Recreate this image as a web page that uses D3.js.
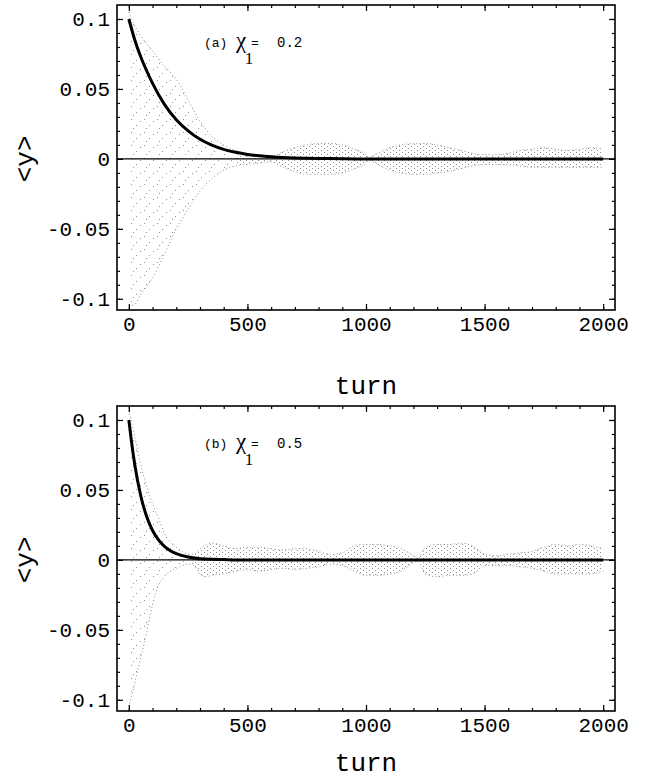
<!DOCTYPE html>
<html><head><meta charset="utf-8">
<script src="https://cdn.jsdelivr.net/npm/d3@7"></script>
<style>body{margin:0;background:#fff}</style>
</head><body>
<svg id="c" width="652" height="779" xmlns="http://www.w3.org/2000/svg"></svg>
<script>
// ---------- data ----------
const xTickValues = [0, 500, 1000, 1500, 2000];
const xTickLabels = ["0", "500", "1000", "1500", "2000"];
const yTickValues = [-0.1, -0.05, 0, 0.05, 0.1];
const yTickLabels = ["-0.1", "-0.05", "0", "0.05", "0.1"];
const panelLabels = ["(a)", "(b)"];
const chiValues = ["0.2", "0.5"];
const xTitle = "turn";
const yTitle = "<y>";

// thick curve: centroid <y> (panel a)
const meanTurnsA = [0, 25, 50, 75, 100, 150, 200, 250, 300, 350, 400, 450, 500, 550, 600, 650, 700, 750, 800, 850, 900, 950, 1000, 1500, 2000];
const meanA = [0.1, 0.085, 0.073, 0.063, 0.054, 0.039, 0.028, 0.020, 0.0140, 0.0098, 0.0068, 0.0047, 0.0032, 0.0022, 0.0015, 0.0010, 0.0007, 0.0005, 0.0003, 0.0002, 0.0001, 0, 0, 0, 0];
// thick curve: centroid <y> (panel b)
const meanTurnsB = [0, 10, 25, 50, 75, 100, 125, 150, 175, 200, 250, 300, 350, 400, 450, 500, 1000, 1500, 2000];
const meanB = [0.1, 0.086, 0.068, 0.046, 0.031, 0.021, 0.0143, 0.0097, 0.0066, 0.0045, 0.0021, 0.0009, 0.0004, 0.0002, 0, 0, 0, 0, 0];

// turn-by-turn scatter envelope (panel a)
const envTurnsA = [0, 25, 50, 100, 150, 200, 250, 300, 350, 400, 450, 500, 550, 600, 650, 700, 750, 800, 850, 900, 950, 1000, 1010, 1050, 1100, 1150, 1200, 1250, 1300, 1350, 1400, 1450, 1500, 1550, 1600, 1650, 1700, 1750, 1800, 1850, 1900, 1950, 2000];
const envUpperA = [0.105, 0.095, 0.088, 0.077, 0.066, 0.057, 0.042, 0.027, 0.016, 0.010, 0.006, 0.004, 0.003, 0.002, 0.005, 0.008, 0.010, 0.011, 0.011, 0.010, 0.007, 0.003, 0.001, 0.004, 0.008, 0.010, 0.011, 0.011, 0.010, 0.008, 0.006, 0.004, 0.003, 0.003, 0.004, 0.006, 0.007, 0.008, 0.007, 0.006, 0.007, 0.008, 0.007];
const envLowerA = [-0.105, -0.104, -0.097, -0.085, -0.068, -0.050, -0.036, -0.023, -0.014, -0.008, -0.005, -0.004, -0.003, -0.002, -0.006, -0.009, -0.011, -0.011, -0.011, -0.010, -0.007, -0.003, -0.001, -0.004, -0.008, -0.010, -0.011, -0.011, -0.010, -0.009, -0.007, -0.005, -0.004, -0.004, -0.004, -0.005, -0.006, -0.006, -0.006, -0.006, -0.006, -0.006, -0.006];

// turn-by-turn scatter envelope (panel b)
const envTurnsB = [0, 25, 50, 75, 100, 125, 150, 175, 200, 225, 250, 275, 300, 325, 350, 400, 450, 500, 550, 600, 650, 700, 750, 800, 850, 900, 950, 1000, 1050, 1100, 1150, 1200, 1220, 1250, 1300, 1350, 1400, 1450, 1500, 1550, 1600, 1650, 1700, 1750, 1800, 1850, 1900, 1950, 2000];
const envUpperB = [0.107, 0.088, 0.068, 0.053, 0.040, 0.030, 0.019, 0.013, 0.009, 0.006, 0.004, 0.004, 0.008, 0.011, 0.012, 0.010, 0.008, 0.009, 0.009, 0.008, 0.007, 0.008, 0.008, 0.006, 0.004, 0.005, 0.010, 0.011, 0.011, 0.010, 0.008, 0.003, 0.001, 0.009, 0.011, 0.011, 0.012, 0.010, 0.004, 0.003, 0.004, 0.005, 0.006, 0.009, 0.011, 0.010, 0.011, 0.010, 0.008];
const envLowerB = [-0.105, -0.088, -0.070, -0.052, -0.032, -0.018, -0.012, -0.008, -0.006, -0.004, -0.003, -0.004, -0.010, -0.012, -0.011, -0.010, -0.008, -0.007, -0.008, -0.007, -0.006, -0.007, -0.006, -0.005, -0.003, -0.004, -0.008, -0.011, -0.011, -0.010, -0.008, -0.002, -0.001, -0.010, -0.012, -0.011, -0.011, -0.010, -0.004, -0.004, -0.004, -0.005, -0.006, -0.008, -0.010, -0.010, -0.010, -0.010, -0.008];

// ---------- drawing ----------
const svg = d3.select("#c");
const defs = svg.append("defs");
const sparse = defs.append("pattern").attr("id", "sparse").attr("patternUnits", "userSpaceOnUse")
  .attr("width", 13).attr("height", 13);
[[1,2],[6,8],[10,4],[3,11]].forEach(p => sparse.append("rect").attr("x", p[0]).attr("y", p[1]).attr("width", 1).attr("height", 1).attr("fill", "#909090"));
const dense = defs.append("pattern").attr("id", "dense").attr("patternUnits", "userSpaceOnUse")
  .attr("width", 6).attr("height", 4);
[[0,0],[3,2]].forEach(p => dense.append("rect").attr("x", p[0]).attr("y", p[1]).attr("width", 1).attr("height", 1).attr("fill", "#8c8c8c"));

const panels = [
  {top: 5, titleY: 394, meanT: meanTurnsA, mean: meanA, envT: envTurnsA, up: envUpperA, lo: envLowerA, split: 450, lab: panelLabels[0], chi: chiValues[0]},
  {top: 406, titleY: 771, meanT: meanTurnsB, mean: meanB, envT: envTurnsB, up: envUpperB, lo: envLowerB, split: 275, lab: panelLabels[1], chi: chiValues[1]}
];

const mono = "'Liberation Mono','DejaVu Sans Mono',monospace";
const serif = "'Liberation Serif','DejaVu Serif',serif";

panels.forEach((p, i) => {
  const x = d3.scaleLinear().domain([-50, 2050]).range([117, 615]);
  const y = d3.scaleLinear().domain([-0.108, 0.110]).range([p.top + 305, p.top]);
  const g = svg.append("g");

  const env = p.envT.map((t, k) => ({t, u: p.up[k], l: p.lo[k]}));
  const area = d3.area().x(d => x(d.t)).y0(d => y(d.l)).y1(d => y(d.u)).curve(d3.curveMonotoneX);
  const early = env.filter(d => d.t <= p.split);
  const late = env.filter(d => d.t >= p.split);
  g.append("path").datum(early).attr("d", area).attr("fill", "url(#sparse)");
  g.append("path").datum(late).attr("d", area).attr("fill", "url(#dense)");
  const edge = d3.line().x(d => x(d.t)).curve(d3.curveMonotoneX);
  g.append("path").datum(env).attr("d", edge.y(d => y(d.u))).attr("fill", "none")
    .attr("stroke", "#8c8c8c").attr("stroke-width", 1).attr("stroke-dasharray", "1,2.5");
  g.append("path").datum(env).attr("d", edge.y(d => y(d.l))).attr("fill", "none")
    .attr("stroke", "#8c8c8c").attr("stroke-width", 1).attr("stroke-dasharray", "1,2.5");

  // zero line
  g.append("line").attr("x1", x.range()[0]).attr("x2", x.range()[1]).attr("y1", y(0)).attr("y2", y(0))
    .attr("stroke", "#000").attr("stroke-width", 1.4);

  // thick mean curve
  const mline = d3.line().x((d, k) => x(p.meanT[k])).y(d => y(d)).curve(d3.curveMonotoneX);
  g.append("path").datum(p.mean).attr("d", mline).attr("fill", "none").attr("stroke", "#000").attr("stroke-width", 3);

  // axes
  const xMinor = d3.range(0, 2001, 100);
  const yMinor = d3.range(-10, 11).map(v => v / 100);
  const bottom = y.range()[0], top = y.range()[1], left = x.range()[0], right = x.range()[1];
  const ax = (gen, tx, ty) => g.append("g").attr("transform", `translate(${tx},${ty})`).call(gen);
  const styleAxis = sel => { sel.select(".domain").remove(); sel.selectAll("line").attr("stroke", "#000").attr("stroke-width", 1.2); };

  ax(d3.axisBottom(x).tickValues(xMinor).tickSize(-3).tickFormat(""), 0, bottom).call(styleAxis);
  ax(d3.axisTop(x).tickValues(xMinor).tickSize(-3).tickFormat(""), 0, top).call(styleAxis);
  ax(d3.axisLeft(y).tickValues(yMinor).tickSize(-3).tickFormat(""), left, 0).call(styleAxis);
  ax(d3.axisRight(y).tickValues(yMinor).tickSize(-3).tickFormat(""), right, 0).call(styleAxis);
  ax(d3.axisTop(x).tickValues(xTickValues).tickSize(-6).tickFormat(""), 0, top).call(styleAxis);
  ax(d3.axisRight(y).tickValues(yTickValues).tickSize(-6).tickFormat(""), right, 0).call(styleAxis);

  const xb = ax(d3.axisBottom(x).tickValues(xTickValues).tickSize(-6).tickPadding(0)
      .tickFormat((d, k) => xTickLabels[k]), 0, bottom).call(styleAxis);
  xb.selectAll("text").attr("y", 21).attr("dy", null).attr("font-family", mono).attr("font-size", 21).attr("fill", "#000");
  const yl = ax(d3.axisLeft(y).tickValues(yTickValues).tickSize(-6).tickPadding(0)
      .tickFormat((d, k) => yTickLabels[k]), left, 0).call(styleAxis);
  yl.selectAll("text").attr("x", -7).attr("dy", "0.3em").attr("font-family", mono).attr("font-size", 21).attr("fill", "#000");

  // frame
  g.append("rect").attr("x", left).attr("y", top).attr("width", right - left).attr("height", bottom - top)
    .attr("fill", "none").attr("stroke", "#000").attr("stroke-width", 1.6);

  // titles
  g.append("text").attr("x", (left + right) / 2).attr("y", p.titleY).attr("text-anchor", "middle")
    .attr("font-family", mono).attr("font-size", 26).text(xTitle);
  g.append("text").attr("transform", `translate(33,${y(0)}) rotate(-90)`).attr("text-anchor", "middle")
    .attr("font-family", mono).attr("font-size", 26).text(yTitle);

  // annotation
  const ay = p.top + 42;
  g.append("text").attr("x", 204).attr("y", ay).attr("font-family", mono).attr("font-size", 13).text(p.lab);
  g.append("text").attr("x", 236).attr("y", ay + 1).attr("font-family", serif).attr("font-size", 23).text("χ");
  g.append("text").attr("x", 251).attr("y", ay).attr("font-family", mono).attr("font-size", 13).text("=");
  g.append("text").attr("x", 277).attr("y", ay).attr("font-family", mono).attr("font-size", 14).text(p.chi);
  g.append("text").attr("x", 249).attr("y", ay + 17).attr("text-anchor", "middle").attr("font-family", serif).attr("font-size", 17).text("1");
});
</script>
</body></html>
